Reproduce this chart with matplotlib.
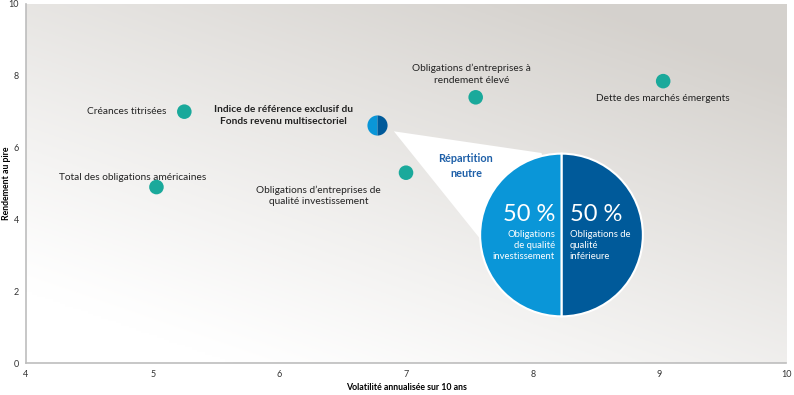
import numpy as np
import matplotlib
matplotlib.use('Agg')
import matplotlib.pyplot as plt
from matplotlib.patches import Polygon

plt.rcParams['font.family'] = ['Lato', 'DejaVu Sans']

# data
labels = ['Créances titrisées', 'Total des obligations américaines',
          'Obligations d’entreprises de\nqualité investissement',
          'Obligations d’entreprises à\nrendement élevé',
          'Dette des marchés émergents']
vol = [5.25, 5.03, 7.0, 7.55, 9.03]
ytw = [7.0, 4.9, 5.3, 7.4, 7.85]
bench_label = 'Indice de référence exclusif du\nFonds revenu multisectoriel'
bench_vol = 6.77
bench_ytw = 6.62
split = [50, 50]
split_labels = ['Obligations\nde qualité\ninvestissement', 'Obligations de\nqualité\ninférieure']

teal = '#1aa99b'
light_blue = '#0a96d8'
dark_blue = '#005a9a'

fig = plt.figure(figsize=(7.94, 3.95), dpi=100)
ax = fig.add_axes([0.0327, 0.081, 0.9573, 0.909])
ax.set_xlim(4, 10)
ax.set_ylim(0, 10)

# gradient background
gx, gy = np.meshgrid(np.linspace(0, 1, 300), np.linspace(0, 1, 150))
t = np.clip(0.55 * gx + 0.75 * gy - 0.15, 0, 1) ** 1.1
c0 = np.array([1.0, 1.0, 1.0])
c1 = np.array([0.835, 0.822, 0.805])
img = c0 + (c1 - c0) * t[..., None]
ax.imshow(img, extent=[0, 1, 0, 1], transform=ax.transAxes, origin='lower',
          aspect='auto', zorder=0)

for s in ['top', 'right']:
    ax.spines[s].set_visible(False)
for s in ['left', 'bottom']:
    ax.spines[s].set_color('#bdbdbd')
    ax.spines[s].set_linewidth(1.2)
ax.tick_params(length=0, labelsize=6.5, colors='#333333')
ax.tick_params(axis='x', pad=5)
ax.tick_params(axis='y', pad=5)
ax.set_xticks([4, 5, 6, 7, 8, 9, 10])
ax.set_yticks([0, 2, 4, 6, 8, 10])
ax.set_xlabel('Volatilité annualisée sur 10 ans', fontsize=6.3, fontweight='bold', labelpad=3)
ax.set_ylabel('Rendement au pire', fontsize=6.3, fontweight='bold')
ax.yaxis.set_label_coords(-0.0195, 0.5)

ax.scatter(vol, ytw, s=110, color=teal, zorder=4, edgecolors='none')

# label positions
fs = 7.3
ax.annotate(labels[0], (vol[0], ytw[0]), xytext=(-13, 0), textcoords='offset points',
            ha='right', va='center', fontsize=fs, color='#222222')
ax.annotate(labels[1], (vol[1], ytw[1]), xytext=(-17, 4), textcoords='offset points',
            ha='center', va='bottom', fontsize=fs, color='#222222')
ax.annotate(labels[2], (vol[2], ytw[2]), xytext=(-63, -9), textcoords='offset points',
            ha='center', va='top', fontsize=fs, color='#222222', linespacing=1.4)
ax.annotate(labels[3], (vol[3], ytw[3]), xytext=(-3, 9), textcoords='offset points',
            ha='center', va='bottom', fontsize=fs, color='#222222', linespacing=1.4)
ax.annotate(labels[4], (vol[4], ytw[4]), xytext=(0, -9.5), textcoords='offset points',
            ha='center', va='top', fontsize=fs, color='#222222')
ax.annotate(bench_label, (bench_vol, bench_ytw), xytext=(-67, 7), textcoords='offset points',
            ha='center', va='center', fontsize=fs, fontweight='bold', color='#222222',
            linespacing=1.4)

# pie inset (center/radius in pixel space)
fig.canvas.draw()
W, H = fig.bbox.width, fig.bbox.height
cx, cy, r = 561.5, 395 - 235, 83
ax_pie = fig.add_axes([(cx - r) / W, (cy - r) / H, 2 * r / W, 2 * r / H])
ax_pie.set_zorder(5)

# callout wedge from benchmark point to pie
bx, by = ax.transData.transform((bench_vol, bench_ytw))
inv = fig.transFigure.inverted()
apex = inv.transform((bx + 17, by - 6))
p_top = inv.transform((cx - 20, cy + r - 1))
p_bot = inv.transform((cx - r + 5, cy - 8))
p_mid = inv.transform((cx, cy))
tri = Polygon([apex, p_top, p_mid, p_bot], closed=True, transform=fig.transFigure,
              facecolor='white', edgecolor='none', zorder=3)
fig.patches.append(tri)

ax_pie.pie(split, colors=[dark_blue, light_blue], startangle=90, counterclock=False,
           wedgeprops=dict(edgecolor='white', linewidth=1.5))
ax_pie.set_xlim(-1.02, 1.02)
ax_pie.set_ylim(-1.02, 1.02)
ax_pie.set_aspect('equal')
ax_pie.axis('off')
ax_pie.text(-0.08, 0.25, '50 %', ha='right', va='center', fontsize=17, color='white')
ax_pie.text(0.1, 0.25, '50 %', ha='left', va='center', fontsize=17, color='white')
ax_pie.text(-0.08, 0.06, split_labels[0], ha='right', va='top', fontsize=6.8,
            color='white', linespacing=1.25)
ax_pie.text(0.1, 0.06, split_labels[1], ha='left', va='top', fontsize=6.8,
            color='white', linespacing=1.25)

fig.text(466 / W, (395 - 166) / H, 'Répartition\nneutre', ha='center', va='center',
         fontsize=7.8, fontweight='bold', color='#1d5fa8', linespacing=1.4, zorder=6)

# benchmark half/half marker
ax.plot([bench_vol], [bench_ytw], marker='o', markersize=14.5, fillstyle='left',
        markerfacecolor=light_blue, markerfacecoloralt=dark_blue,
        markeredgecolor='none', zorder=6, linestyle='none')

fig.savefig('out.png', dpi=100)
